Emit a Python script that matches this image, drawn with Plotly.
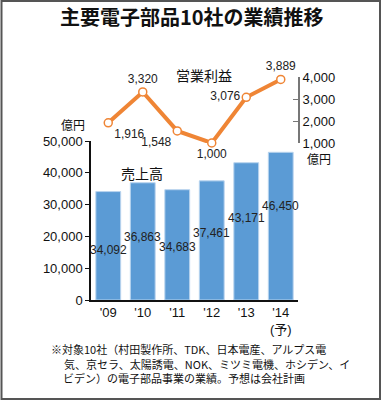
import plotly.graph_objects as go

categories = ["'09", "'10", "'11", "'12", "'13", "'14"]
tick_labels = ["'09", "'10", "'11", "'12", "'13", "'14<br>(予)"]
sales = [34092, 36863, 34683, 37461, 43171, 46450]
profit = [1916, 3320, 1548, 1000, 3076, 3889]
sales_label_shift = [-58, -54, -57, -52, -55, -54]
profit_text_pos = ["bottom right", "top center", "bottom left", "bottom center", "middle left", "top center"]

W, H = 382, 402
ML, MR, MT, MB = 91, 84, 40, 102
PW = W - ML - MR
PH = H - MT - MB

def px(xp):
    return (xp - ML) / PW

def py(yp):
    return (H - MB - yp) / PH

FONT = "Liberation Sans, Arial, Noto Sans CJK JP, sans-serif"
JFONT = "Noto Sans CJK JP, sans-serif"
BAR = "#5b9bd5"
ORANGE = "#ef8535"

fig = go.Figure()
fig.add_trace(go.Bar(
    x=categories, y=sales, marker=dict(color=BAR, line=dict(color="#b9d4ee", width=1)),
    width=0.72, yaxis="y", hoverinfo="skip"
))
fig.add_trace(go.Scatter(
    x=categories, y=profit, yaxis="y2", mode="lines+markers+text",
    line=dict(color=ORANGE, width=4),
    marker=dict(size=8, color="white", line=dict(color=ORANGE, width=1.5)),
    text=[f"{v:,}" for v in profit], textposition=profit_text_pos,
    textfont=dict(family=FONT, size=12, color="#222"),
    cliponaxis=False, hoverinfo="skip"
))

annotations = []
for c, v, s in zip(categories, sales, sales_label_shift):
    annotations.append(dict(x=c, y=v, xref="x", yref="y", yshift=s, text=f"{v:,}",
                            showarrow=False, font=dict(family=FONT, size=12, color="#222")))

def ptext(t, x, y, size, xanchor="center", family=JFONT):
    annotations.append(dict(x=px(x), y=py(y), xref="paper", yref="paper", text=t,
                            showarrow=False, xanchor=xanchor, yanchor="middle",
                            font=dict(family=family, size=size, color="#111")))

ptext("<b>主要電子部品10社の業績推移</b>", 192, 16, 20)
ptext("営業利益", 204, 75, 14)
ptext("売上高", 142, 173, 14)
ptext("億円", 87, 125, 12, xanchor="right")
ptext("億円", 305, 158, 12, xanchor="left")
ptext("※対象10社（村田製作所、TDK、日本電産、アルプス電", 49, 349, 11, xanchor="left")
ptext("気、京セラ、太陽誘電、NOK、ミツミ電機、ホシデン、イ", 62, 363.5, 11, xanchor="left")
ptext("ビデン）の電子部品事業の業績。予想は会社計画", 61, 378, 11, xanchor="left")

fig.update_layout(
    width=W, height=H, margin=dict(l=ML, r=MR, t=MT, b=MB),
    paper_bgcolor="white", plot_bgcolor="white", showlegend=False,
    font=dict(family=FONT, size=13, color="#111"),
    xaxis=dict(range=[-0.5, 5.5], tickvals=categories, ticktext=tick_labels,
               showline=True, linecolor="#111", linewidth=1.5, ticks="",
               showgrid=False, zeroline=False, tickfont=dict(size=13)),
    yaxis=dict(domain=[0, py(141)], range=[0, 50000], tickvals=[0, 10000, 20000, 30000, 40000, 50000],
               tickformat=",", showline=True, linecolor="#111", linewidth=1.5,
               ticks="outside", ticklen=4, tickcolor="#111", showgrid=False, zeroline=False,
               tickfont=dict(size=13)),
    yaxis2=dict(domain=[py(143), py(77)], range=[1000, 4000], tickvals=[1000, 2000, 3000, 4000],
                tickformat=",", side="right", anchor="x", showline=True, linecolor="#777",
                linewidth=2, ticks="inside", ticklen=5, tickcolor="#777", showgrid=False,
                zeroline=False, tickfont=dict(size=13)),
    annotations=annotations,
    shapes=[dict(type="rect", xref="paper", yref="paper", x0=px(1.5), x1=px(380),
                 y0=py(399), y1=py(1), line=dict(color="#555", width=2))],
)

fig.write_html("out.html", config={"displayModeBar": False},
               post_script="document.body.style.margin='0';document.body.style.overflow='hidden';")
